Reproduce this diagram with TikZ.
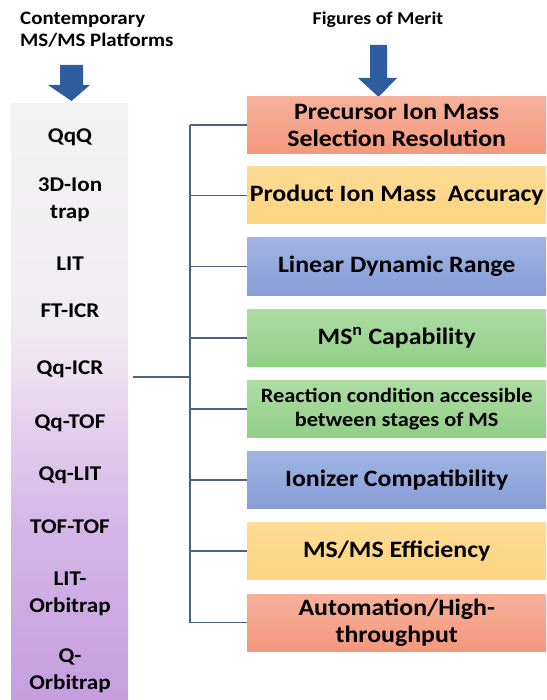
\documentclass[tikz,border=0pt]{standalone}
\usepackage{fontspec}
\setmainfont{Carlito}[FakeStretch=1.1]
\definecolor{arrowblue}{HTML}{2E5C9E}
\definecolor{linkcol}{HTML}{4B6282}
\definecolor{salmonT}{HTML}{F7B09A}
\definecolor{salmonB}{HTML}{F3987C}
\definecolor{goldT}{HTML}{FEDC94}
\definecolor{goldB}{HTML}{FDD380}
\definecolor{blueT}{HTML}{A0B4E4}
\definecolor{blueB}{HTML}{869DD6}
\definecolor{greenT}{HTML}{AEDCA4}
\definecolor{greenB}{HTML}{90CF86}
\definecolor{platA}{HTML}{F3F3F3}
\definecolor{platC}{HTML}{F0EDF0}
\definecolor{platD}{HTML}{EDE0F0}
\definecolor{platE}{HTML}{E3CFEE}
\definecolor{platF}{HTML}{D5B6E7}
\definecolor{platG}{HTML}{C69EDF}
% grey at the top, through pale pink, to lavender at the bottom
\pgfdeclareverticalshading{platshade}{100bp}{%
  color(0bp)=(platG); color(25bp)=(platG); color(39.5bp)=(platF);
  color(48bp)=(platE); color(52.5bp)=(platD); color(57.5bp)=(platC);
  color(75bp)=(platA); color(100bp)=(platA)}
\begin{document}
\begin{tikzpicture}[x=1pt,y=-1pt,
  title/.style={font=\bfseries\fontsize{19}{22}\selectfont, align=left, inner sep=0},
  platitem/.style={font=\bfseries\fontsize{21}{27}\selectfont, align=center, inner sep=0},
  merit/.style={minimum width=299pt, minimum height=57pt, inner sep=0, anchor=west,
    align=center, font=\bfseries\fontsize{23.5}{27}\selectfont},
  meritsmall/.style={merit, font=\bfseries\fontsize{20.3}{24}\selectfont},
  salmonbox/.style={top color=salmonT, bottom color=salmonB},
  goldbox/.style={top color=goldT, bottom color=goldB},
  bluebox/.style={top color=blueT, bottom color=blueB},
  greenbox/.style={top color=greenT, bottom color=greenB},
  link/.style={draw=linkcol, line width=1.3pt},
  bigarrow/.style={fill=arrowblue}]
\useasboundingbox (0,0) rectangle (546,700);

% headings
\node[title, anchor=north west] (h1) at (20,12) {Contemporary\\MS/MS Platforms};
\node[title, anchor=north, font=\bfseries\fontsize{18}{22}\selectfont] (h2) at (378,12) {Figures of Merit};

% platform column
\node[minimum width=117pt, minimum height=597pt, anchor=north west, inner sep=0,
  shading=platshade] (plat) at (11,103) {};

% downward arrows
\fill[bigarrow] (60,65) -- (83,65) -- (83,85) -- (90,85) -- (71.5,101) -- (48,85) -- (60,85) -- cycle;
\fill[bigarrow] (370,45) -- (387,45) -- (387,78) -- (397,78) -- (378.5,97) -- (358,78) -- (370,78) -- cycle;

% platform names
\node[platitem] (p1) at (70,137) {QqQ};
\node[platitem] (p2) at (70,200) {3D-Ion\\trap};
\node[platitem] (p3) at (70,264) {LIT};
\node[platitem] (p4) at (70,311) {FT-ICR};
\node[platitem] (p5) at (70,369) {Qq-ICR};
\node[platitem] (p6) at (70,423) {Qq-TOF};
\node[platitem] (p7) at (70,475) {Qq-LIT};
\node[platitem] (p8) at (70,527) {TOF-TOF};
\node[platitem] (p9) at (70,594) {LIT-\\Orbitrap};
\node[platitem] (p10) at (70,671) {Q-\\Orbitrap};

% figures of merit
\node[merit, salmonbox] (m1) at (247,125) {Precursor Ion Mass\\Selection Resolution};
\node[merit, goldbox]   (m2) at (247,195.5) {Product Ion Mass\ \ Accuracy};
\node[merit, bluebox]   (m3) at (247,266.5) {Linear Dynamic Range};
\node[merit, greenbox]  (m4) at (247,338) {MS\textsuperscript{n} Capability};
\node[meritsmall, greenbox] (m5) at (247,409) {Reaction condition accessible\\between stages of MS};
\node[merit, bluebox]   (m6) at (247,480) {Ionizer Compatibility};
\node[merit, goldbox]   (m7) at (247,551) {MS/MS Efficiency};
\node[merit, salmonbox] (m8) at (247,622.5) {Automation/High-\\throughput};

% bracket linking the platforms to every figure of merit
\coordinate (bus) at (190,377);
\draw[link] (plat.east |- bus) ++(5,0) -- (bus);
\draw[link] (bus |- m1.west) -- (bus |- m8.west);
\foreach \m in {m1,m2,m3,m4,m5,m6,m7,m8}
  \draw[link] (bus |- \m.west) -- (\m.west);
\end{tikzpicture}
\end{document}
